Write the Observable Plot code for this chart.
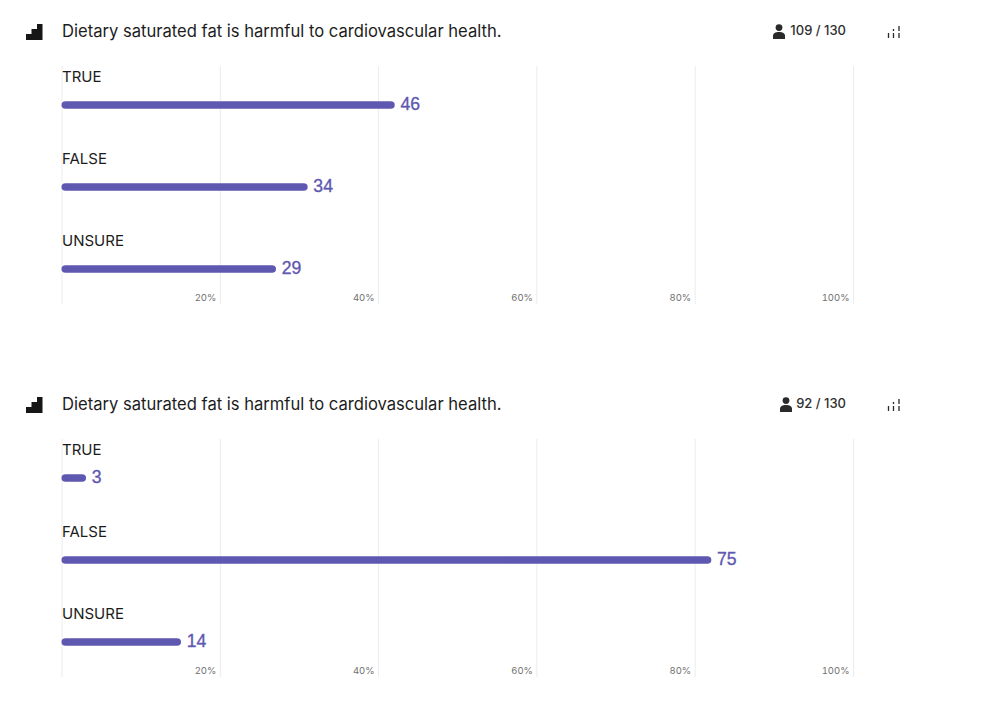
<!DOCTYPE html>
<html>
<head>
<meta charset="utf-8">
<script src="https://cdn.jsdelivr.net/npm/d3@7"></script>
<script src="https://cdn.jsdelivr.net/npm/@observablehq/plot@0.6"></script>
<style>
html,body{margin:0;padding:0;background:#fff;}
body{position:relative;width:982px;height:718px;overflow:hidden;font-family:Inter,sans-serif;color:#1c1c1c;}
.title{position:absolute;left:62px;font:400 16.58px/20px Inter,sans-serif;white-space:nowrap;color:#1d1d1d;}
.count{position:absolute;right:136px;font:500 13px/16px Inter,sans-serif;color:#2f2f2f;white-space:nowrap;}
.icon{position:absolute;}
.panel{position:absolute;left:0;}
.panel svg{display:block;overflow:visible;}
</style>
</head>
<body>
<script>
const questionTitle = "Dietary saturated fat is harmful to cardiovascular health.";
const categories = ["TRUE", "FALSE", "UNSURE"];
const valuesFirst = [46, 34, 29];
const valuesSecond = [3, 75, 14];
const answeredFirst = 109;
const answeredSecond = 92;
const cohortSize = 130;
const tickValues = [20, 40, 60, 80, 100];
const gridValues = [0, 20, 40, 60, 80, 100];
const barColor = "#5f58b0";

function addPanel(top, values, answered, countRight) {
  const rows = categories.map((c, i) => ({category: c, count: values[i], pct: Math.round(values[i] / answered * 100)}));

  const title = document.createElement("div");
  title.className = "title";
  title.style.top = top + 21 + "px";
  title.textContent = questionTitle;
  document.body.appendChild(title);

  const bars = document.createElement("div");
  bars.className = "icon";
  bars.style.cssText = `left:26px;top:${top + 24}px;`;
  bars.innerHTML = `<svg width="17" height="16" viewBox="0 0 17 16" style="display:block"><path fill="#161616" d="M0 10h5.500v6H0zM5.500 5h5.500v11H5.500zM11 0h5.500v16H11z"/></svg>`;
  document.body.appendChild(bars);

  const count = document.createElement("div");
  count.className = "count";
  count.style.top = top + 22 + "px";
  count.textContent = answered + " / " + cohortSize;
  document.body.appendChild(count);

  const person = document.createElement("div");
  person.className = "icon";
  person.style.cssText = `left:${countRight}px;top:${top + 24}px;`;
  person.innerHTML = `<svg width="12" height="15" viewBox="0 0 12 15" style="display:block"><circle cx="6" cy="3.6" r="3.4" fill="#2a2a2a"/><path fill="#2a2a2a" d="M0 15v-3.2C0 9.300 2.400 8 6 8s6 1.300 6 3.800V15z"/></svg>`;
  document.body.appendChild(person);

  const ticksIcon = document.createElement("div");
  ticksIcon.className = "icon";
  ticksIcon.style.cssText = `left:887px;top:${top + 25}px;`;
  ticksIcon.innerHTML = `<svg width="14" height="14" viewBox="0 0 14 14" style="display:block"><path stroke="#2a2a2a" stroke-width="1.300" fill="none" d="M1.500 8v5M6.500 4v2M6.500 8v5M12 1v5M12 8v5"/></svg>`;
  document.body.appendChild(ticksIcon);

  const chart = Plot.plot({
    width: 982,
    height: 238,
    marginLeft: 61.5,
    marginRight: 129,
    marginTop: 0,
    marginBottom: 0,
    style: {background: "transparent", overflow: "visible"},
    x: {domain: [0, 100], axis: null},
    y: {domain: categories, range: [-3.25, 244.25], padding: 0, axis: null},
    marks: [
      Plot.ruleX(gridValues, {stroke: "#ececec", strokeWidth: 1}),
      Plot.barX(rows, {x1: 0, x2: "pct", y: "category", fill: barColor, rx: 4, insetTop: 37.25, insetBottom: 37.25, insetRight: -0.8}),
      Plot.text(rows, {x: 0, y: "category", text: "category", textAnchor: "start", dy: -28, fontSize: 15, fontFamily: "Inter, sans-serif", fill: "#1c1c1c"}),
      Plot.text(rows, {x: "pct", y: "category", text: "count", textAnchor: "start", dx: 6, dy: -1.5, fontSize: 17.6, fontFamily: "Liberation Sans, sans-serif", fill: barColor, stroke: barColor, strokeWidth: 0.35}),
      Plot.axisX({anchor: "bottom", ticks: tickValues, tickFormat: d => d + "%", tickSize: 0, tickPadding: 0, textAnchor: "end", dx: -4, dy: -10, fontSize: 9.5, fontFamily: "Inter, sans-serif", fill: "#707070", label: null})
    ]
  });
  const panel = document.createElement("div");
  panel.className = "panel";
  panel.style.top = top + 66 + "px";
  panel.appendChild(chart);
  document.body.appendChild(panel);
}

addPanel(0, valuesFirst, answeredFirst, 773);
addPanel(373, valuesSecond, answeredSecond, 780);
</script>
</body>
</html>
